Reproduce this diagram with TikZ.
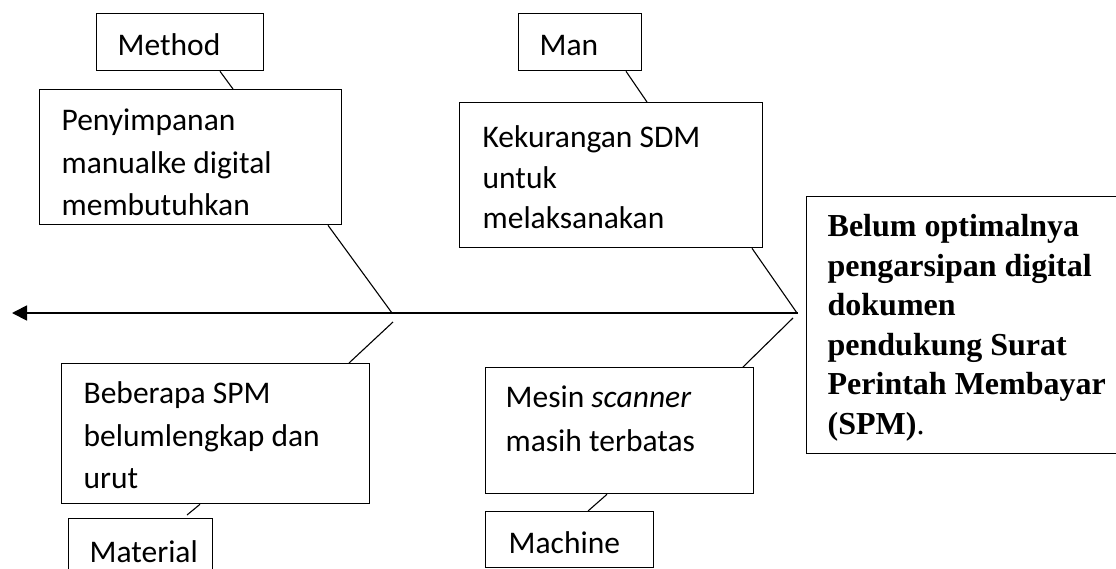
\documentclass[tikz,border=0pt]{standalone}
\usepackage{fontspec}
\setmainfont{Carlito}
\newfontfamily\effectfont{Liberation Serif}
\usetikzlibrary{calc,arrows.meta}
\begin{document}
\begin{tikzpicture}[x=1pt,y=-1pt,
  box/.style={draw, line width=1.3pt, anchor=north west, align=flush left, inner ysep=0pt},
  cal/.style={font=\fontsize{31.5}{42.5}\selectfont},
  bone/.style={line width=1.1pt},
  spine/.style={line width=1.8pt}]
\useasboundingbox (0,0) rectangle (1116,568);
\clip (0,0) rectangle (1116,568);

% category boxes
\node[box, cal, inner xsep=21pt, text width=125pt, text height=42pt, text depth=15pt] (method) at (96,13) {Method};
\node[box, cal, inner xsep=21pt, text width=81pt, text height=42pt, text depth=15pt] (man) at (518,13) {Man};
\node[box, cal, inner xsep=21pt, text width=102pt, text height=44pt, text depth=20pt] (material) at (68,518) {Material};
\node[box, cal, inner xsep=23pt, text width=122pt, text height=42pt, text depth=14pt] (machine) at (485,511) {Machine};

% cause boxes
\node[box, cal, inner xsep=22pt, text width=258pt, text height=41pt, text depth=94pt] (pen) at (39,89)
  {Penyimpanan\\manualke digital\\membutuhkan};
\node[box, font=\fontsize{31.5}{40.5}\selectfont, inner xsep=23pt, text width=257pt, text height=45pt, text depth=100pt] (kek) at (459,102)
  {Kekurangan SDM\\untuk\\melaksanakan};
\node[box, cal, inner xsep=22pt, text width=264pt, text height=40pt, text depth=100pt] (beb) at (61,363)
  {Beberapa SPM\\belumlengkap dan\\urut};
\node[box, font=\fontsize{31.5}{44}\selectfont, inner xsep=20pt, text width=228pt, text height=40pt, text depth=86pt] (mesin) at (485,367)
  {Mesin \textit{scanner}\\masih terbatas};

% effect box
\node[box, font=\effectfont\bfseries\fontsize{32}{39.5}\selectfont, inner xsep=21pt, text width=320pt, text height=40pt, text depth=217pt] (effect) at (806,196)
  {Belum optimalnya\\pengarsipan digital\\dokumen\\pendukung Surat\\Perintah Membayar\\(SPM)\textmd{.}};

% spine
\coordinate (spR) at (798,313);
\coordinate (spL) at (12,313);
\draw[spine, -{Triangle[length=15pt,width=15pt]}] (spR) -- (spL);

% joints on the spine
\coordinate (j1u) at (392,313);
\coordinate (j1d) at (393,322);
\coordinate (j2u) at (797,313);
\coordinate (j2d) at (793,318);

% bones
\draw[bone] ($(method.south west)+(124,0)$) -- ($(pen.north west)+(194,0)$);
\draw[bone] ($(pen.south west)+(289,0)$) -- (j1u);
\draw[bone] (j1d) -- ($(beb.north west)+(288,0)$);
\draw[bone] ($(beb.south west)+(139,0)$) -- ($(material.north west)+(119,-3)$);
\draw[bone] ($(man.south west)+(108,0)$) -- ($(kek.north west)+(188,0)$);
\draw[bone] ($(kek.south west)+(293,0)$) -- (j2u);
\draw[bone] (j2d) -- ($(mesin.north west)+(258,0)$);
\draw[bone] ($(mesin.south west)+(122,0)$) -- ($(machine.north west)+(103,0)$);
\end{tikzpicture}
\end{document}
